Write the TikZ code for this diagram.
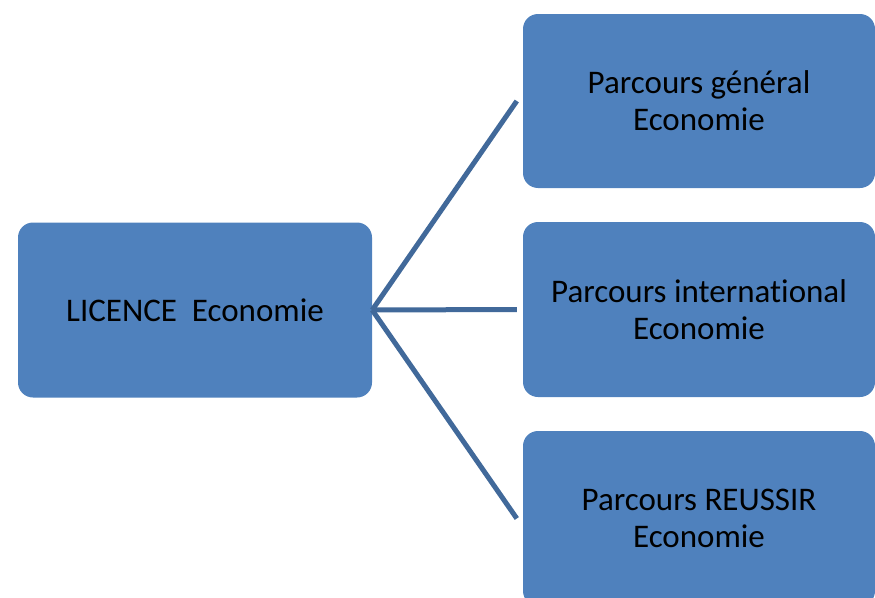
\documentclass[tikz,border=0pt]{standalone}
\usepackage{fontspec}
\setmainfont{Carlito}[RawFeature=-liga]
\definecolor{boxblue}{HTML}{4F81BD}
\definecolor{lineblue}{HTML}{41699A}
\begin{document}
\begin{tikzpicture}[x=1pt,y=-1pt,
  box/.style={fill=boxblue, rounded corners=15pt, minimum width=354pt, minimum height=175pt, inner sep=0pt, align=center, font=\fontsize{33}{37}\selectfont, text=black},
  conn/.style={draw=lineblue, line width=5pt}]
\useasboundingbox (0,0) rectangle (875,597);
\clip (0,0) rectangle (875,597);
\node[box] (L) at (195,310) {LICENCE\ \ Economie};
\node[box, minimum width=352pt, minimum height=174pt] (A) at (699,101) {Parcours général\\Economie};
\node[box, minimum width=352pt] (B) at (699,309.5) {Parcours international\\Economie};
\node[box, minimum width=352pt] (C) at (699,518.5) {Parcours REUSSIR\\Economie};
\draw[conn] (L.east) -- ([xshift=-6pt]A.west);
\draw[conn] (L.east) -- ([xshift=-6pt]B.west);
\draw[conn] (L.east) -- ([xshift=-6pt]C.west);
\end{tikzpicture}
\end{document}
